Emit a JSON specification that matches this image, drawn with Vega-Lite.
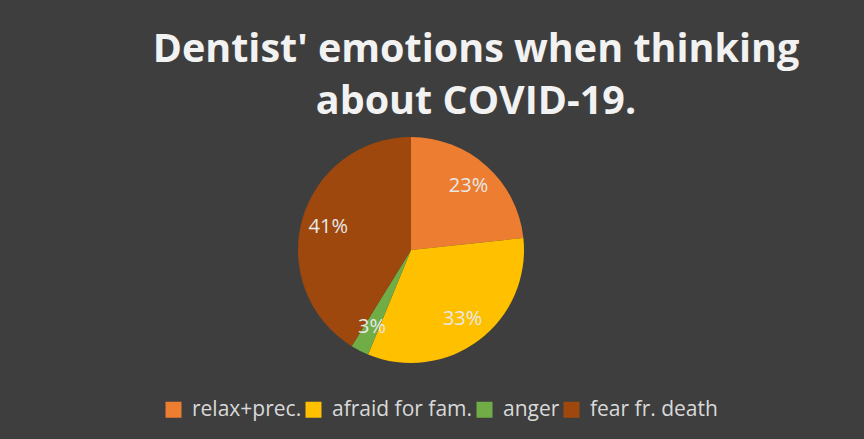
{
  "$schema": "https://vega.github.io/schema/vega-lite/v6.json",
  "width": 822,
  "height": 238,
  "autosize": {"type": "none"},
  "padding": {"left": 0, "top": 131, "right": 42, "bottom": 70},
  "background": "#3e3e3e",
  "title": {
    "text": ["Dentist' emotions when thinking", "about COVID-19."],
    "font": "Open Sans",
    "fontSize": 39.5,
    "fontWeight": "bold",
    "color": "#f2f2f2",
    "anchor": "middle",
    "dx": 65,
    "lineHeight": 52,
    "offset": 9
  },
  "data": {
    "values": [
      {"emotion": "relax+prec.", "pct": 0.233, "order": 1},
      {"emotion": "afraid for fam.", "pct": 0.329, "order": 2},
      {"emotion": "anger", "pct": 0.026, "order": 3},
      {"emotion": "fear fr. death", "pct": 0.412, "order": 4}
    ]
  },
  "encoding": {
    "theta": {"field": "pct", "type": "quantitative", "stack": true},
    "order": {"field": "order", "type": "quantitative"},
    "color": {
      "field": "emotion",
      "type": "nominal",
      "scale": {
        "domain": ["relax+prec.", "afraid for fam.", "anger", "fear fr. death"],
        "range": ["#ED7D31", "#FFC000", "#70AD47", "#9E480E"]
      },
      "legend": {
        "orient": "none",
        "direction": "horizontal",
        "legendX": 163,
        "legendY": 268,
        "title": null,
        "symbolType": "square",
        "symbolSize": 256,
        "symbolStrokeWidth": 0,
        "symbolOpacity": 1,
        "labelFont": "Open Sans",
        "labelFontSize": 21,
        "labelColor": "#d9d9d9",
        "labelOffset": 8,
        "columnPadding": 1,
        "padding": 0
      }
    }
  },
  "layer": [
    {"mark": {"type": "arc", "outerRadius": 113, "stroke": null}},
    {
      "mark": {"type": "text", "radius": 86, "font": "Open Sans", "fontSize": 20, "fill": "#e8e8e8"},
      "encoding": {
        "text": {"field": "pct", "type": "quantitative", "format": ".0%"},
        "color": {"value": "#e8e8e8"}
      }
    }
  ],
  "config": {"view": {"stroke": null}}
}
